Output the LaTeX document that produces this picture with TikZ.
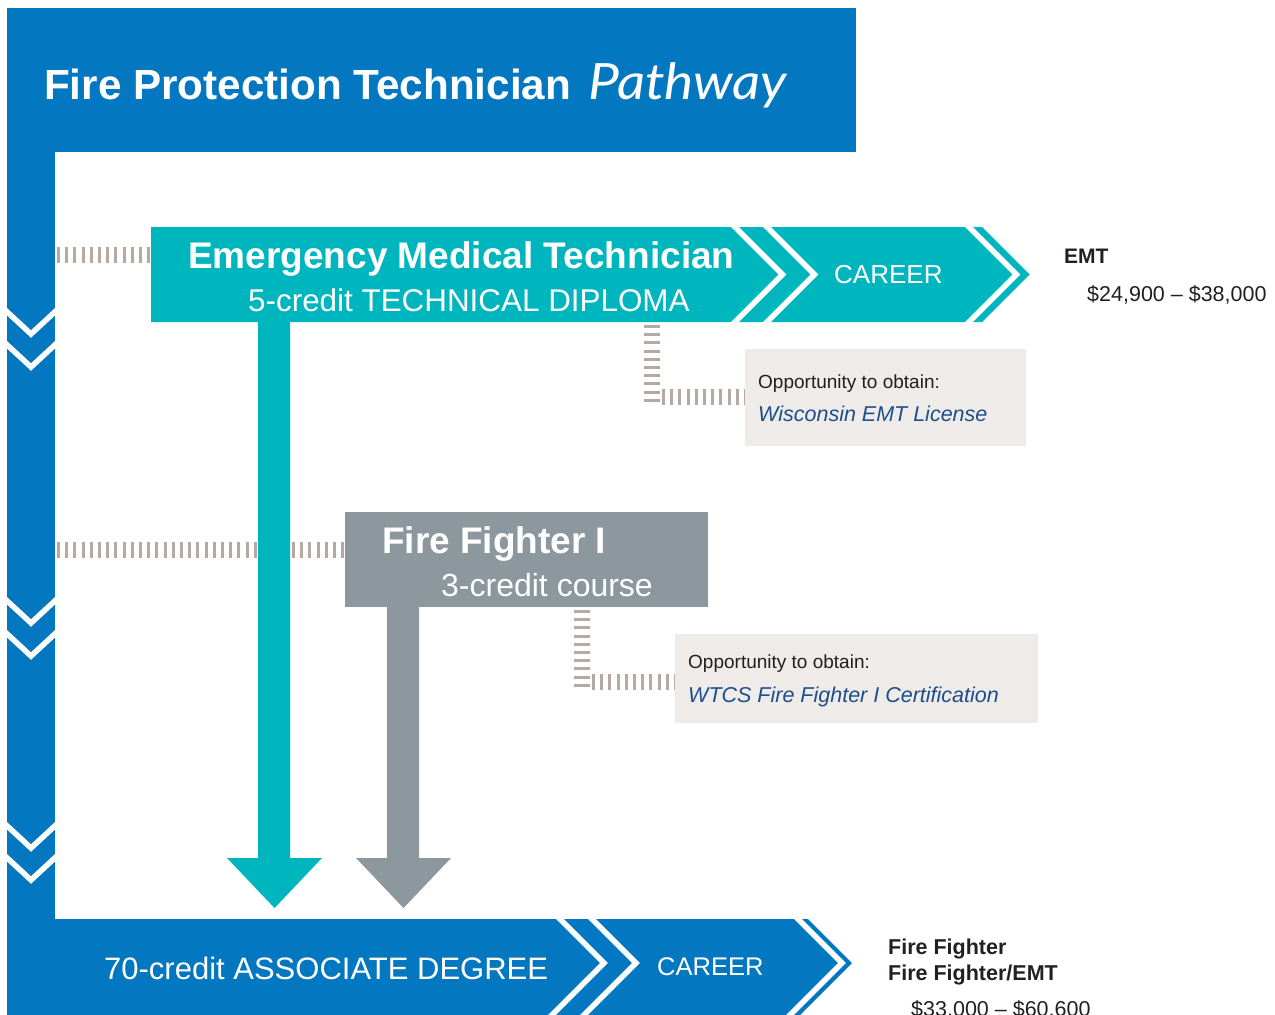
\documentclass[tikz,border=0pt]{standalone}
\usepackage{fontspec}
\setmainfont{Liberation Sans}
\newfontfamily\pathfont{Lato}
\definecolor{pblue}{HTML}{0377C0}
\definecolor{pteal}{HTML}{00B6BE}
\definecolor{pgray}{HTML}{8C979E}
\definecolor{ptaupe}{HTML}{B5A9A1}
\definecolor{pbox}{HTML}{EEEBE8}
\definecolor{pnavy}{HTML}{1D4F8C}
\definecolor{ptext}{HTML}{231F20}
\begin{document}
\begin{tikzpicture}[x=1pt,y=-1pt,
  ticks/.style={draw=ptaupe,line width=16pt,dash pattern=on 3pt off 5.2pt},
  chev/.style={draw=white,line width=5.5pt,miter limit=10},
  txt/.style={inner sep=0pt,anchor=base west},
  wtxt/.style={txt,text=white},
  btxt/.style={txt,text=ptext},
  panel/.style={inner sep=0pt,outer sep=0pt,anchor=north west}]
\useasboundingbox (0,0) rectangle (1275,1015);

% title block and left bar
\node[panel,fill=pblue,minimum width=849pt,minimum height=144pt] (title) at (7,8) {};
\node[panel,fill=pblue,minimum width=48pt,minimum height=767pt] (spine) at (7,152) {};
\node[wtxt] (tt) at (44,99) {\fontsize{42.2}{50}\selectfont\bfseries Fire Protection Technician};
\node[wtxt] (tp) at (588,99) {\scalebox{1.1}[1]{\fontsize{50}{55}\selectfont\pathfont\itshape Pathway}};

% spine chevrons
\foreach \y in {312,345,601,634,826,858}
  \draw[chev] (4,\y-3) -- (31,\y+22) -- (58,\y-3);

% bottom bar
\fill[pblue] (7,919) -- (808,919) -- (852,963) -- (785,1030) -- (7,1030) -- cycle;
\foreach \c in {560,592,798}
  \draw[chev] (\c-4,915) -- (\c+44,963) -- (\c-23,1030);
\node[wtxt] (assoc) at (104,979) {\fontsize{31}{36}\selectfont 70-credit ASSOCIATE DEGREE};
\node[wtxt] (car2) at (657,975) {\fontsize{25.5}{30}\selectfont CAREER};

% stems and arrowheads
\fill[pteal] (258,322) -- (290,322) -- (290,858) -- (322,858) -- (274.5,908) -- (227,858) -- (258,858) -- cycle;
\fill[pgray] (387,607) -- (419,607) -- (419,858) -- (451,858) -- (403.5,908) -- (356,858) -- (387,858) -- cycle;

% EMT arrow
\fill[pteal] (151,227) -- (982,227) -- (1029.5,274.5) -- (982,322) -- (151,322) -- cycle;
\foreach \c in {735,767,969}
  \draw[chev] (\c-4,223) -- (\c+47.5,274.5) -- (\c-4,326);
\node[wtxt] (emt) at (188,268) {\fontsize{37}{42}\selectfont\bfseries Emergency Medical Technician};
\node[wtxt] (emtd) at (248,311) {\fontsize{31.4}{36}\selectfont 5-credit TECHNICAL DIPLOMA};
\node[wtxt] (car1) at (834,283) {\fontsize{26}{30}\selectfont CAREER};

% Fire Fighter box
\node[panel,fill=pgray,minimum width=363pt,minimum height=95pt] (ff) at (345,512) {};
\node[wtxt] (fft) at (382,553) {\fontsize{37}{42}\selectfont\bfseries Fire Fighter I};
\node[wtxt] (ffd) at (441,596) {\fontsize{32}{36}\selectfont 3-credit course};

% opportunity boxes
\node[panel,fill=pbox,minimum width=281pt,minimum height=97pt] (ob1) at (745,349) {};
\node[btxt] (ob1a) at (758,388) {\fontsize{19}{22}\selectfont Opportunity to obtain:};
\node[txt,text=pnavy] (ob1b) at (758,421) {\fontsize{21.5}{25}\selectfont\itshape Wisconsin EMT License};
\node[panel,fill=pbox,minimum width=363pt,minimum height=89pt] (ob2) at (675,634) {};
\node[btxt] (ob2a) at (688,668) {\fontsize{19}{22}\selectfont Opportunity to obtain:};
\node[txt,text=pnavy] (ob2b) at (688,702) {\fontsize{21.5}{25}\selectfont\itshape WTCS Fire Fighter I Certification};

% dotted connectors
\coordinate (r1a) at (57,255);
\coordinate (r1b) at (151,255);
\draw[ticks] (r1a) -- (r1b);
\coordinate (r2a) at (57,550);
\coordinate (r2b) at (258,550);
\coordinate (r2c) at (292,550);
\coordinate (r2d) at (345,550);
\draw[ticks] (r2a) -- (r2b);
\draw[ticks] (r2c) -- (r2d);
\coordinate (l1a) at (652,325);
\coordinate (l1b) at (652,406);
\coordinate (l1c) at (662,397);
\coordinate (l1d) at (745,397);
\draw[ticks] (l1a) -- (l1b);
\draw[ticks] (l1c) -- (l1d);
\coordinate (l2a) at (582,610);
\coordinate (l2b) at (582,691);
\coordinate (l2c) at (592,682);
\coordinate (l2d) at (675,682);
\draw[ticks] (l2a) -- (l2b);
\draw[ticks] (l2c) -- (l2d);

% career texts
\node[btxt] (emtr) at (1064,263) {\fontsize{21}{25}\selectfont\bfseries EMT};
\node[btxt] (emts) at (1087,301) {\fontsize{21.5}{25}\selectfont \$24,900 -- \$38,000};
\node[btxt] (ffr1) at (888,954) {\fontsize{21.5}{25}\selectfont\bfseries Fire Fighter};
\node[btxt] (ffr2) at (888,980) {\fontsize{21.5}{25}\selectfont\bfseries Fire Fighter/EMT};
\node[btxt] (ffs) at (911,1016) {\fontsize{21.5}{25}\selectfont \$33,000 -- \$60,600};
\end{tikzpicture}
\end{document}
